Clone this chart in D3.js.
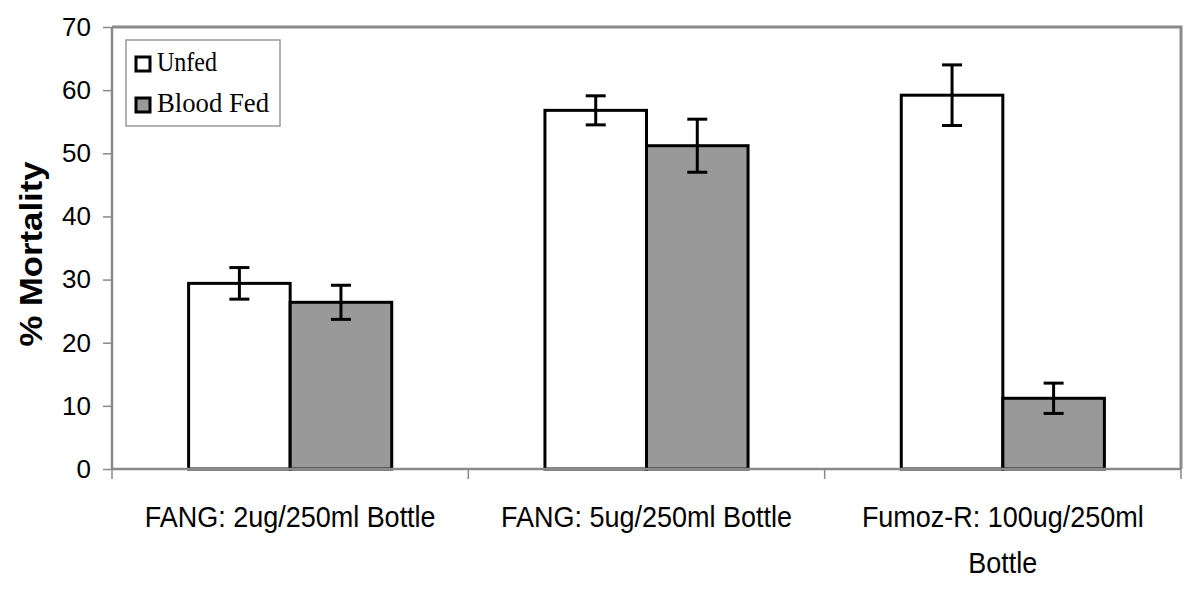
<!DOCTYPE html>
<html>
<head>
<meta charset="utf-8">
<script src="https://cdn.jsdelivr.net/npm/d3@7"></script>
<style>
  body { margin: 0; background: #fff; }
  svg { display: block; }
</style>
</head>
<body>
<script>
// data
var categories = ["FANG: 2ug/250ml Bottle", "FANG: 5ug/250ml Bottle", "Fumoz-R: 100ug/250ml Bottle"];
var seriesNames = ["Unfed", "Blood Fed"];
var unfedValues = [29.4, 56.8, 59.2];
var unfedErrors = [2.5, 2.3, 4.8];
var fedValues = [26.4, 51.2, 11.2];
var fedErrors = [2.7, 4.2, 2.4];
var yTicks = [0, 10, 20, 30, 40, 50, 60, 70];

var svgWidth = 1200;
var svgHeight = 608;
var margin = { top: 27, right: 19, bottom: 139, left: 112 };
var width = svgWidth - margin.left - margin.right;
var height = svgHeight - margin.top - margin.bottom;

var fills = { "Unfed": "#ffffff", "Blood Fed": "#999999" };
var axisGray = "#8a8a8a";

var svg = d3.select("body").append("svg")
    .attr("width", svgWidth)
    .attr("height", svgHeight);

var chartGroup = svg.append("g")
    .attr("transform", `translate(${margin.left}, ${margin.top})`);

// scales
var xScale = d3.scaleBand().domain(categories).range([0, width]);
var bw = xScale.bandwidth();
var xSub = d3.scaleBand().domain(seriesNames).range([bw * 0.215, bw * 0.785]);
var yScale = d3.scaleLinear().domain([0, 70]).range([height, 0]);

// plot frame (top + right)
chartGroup.append("path")
    .attr("d", `M0,0 H${width} V${height}`)
    .attr("fill", "none")
    .attr("stroke", axisGray)
    .attr("stroke-width", 3);

// table for the bars
var rows = [];
categories.forEach(function(c, i) {
  rows.push({ cat: c, series: "Unfed", value: unfedValues[i], err: unfedErrors[i] });
  rows.push({ cat: c, series: "Blood Fed", value: fedValues[i], err: fedErrors[i] });
});

chartGroup.selectAll(".bar")
    .data(rows)
    .enter()
    .append("rect")
    .attr("class", "bar")
    .attr("x", d => xScale(d.cat) + xSub(d.series))
    .attr("y", d => yScale(d.value))
    .attr("width", xSub.bandwidth())
    .attr("height", d => height - yScale(d.value))
    .attr("fill", d => fills[d.series])
    .attr("stroke", "#000")
    .attr("stroke-width", 3);

// error bars
var errG = chartGroup.selectAll(".err")
    .data(rows)
    .enter()
    .append("g")
    .attr("class", "err")
    .attr("stroke", "#000")
    .attr("stroke-width", 3);

var cx = d => xScale(d.cat) + xSub(d.series) + xSub.bandwidth() / 2;
errG.append("line")
    .attr("x1", cx).attr("x2", cx)
    .attr("y1", d => yScale(d.value + d.err))
    .attr("y2", d => yScale(d.value - d.err));
errG.append("line")
    .attr("x1", d => cx(d) - 10).attr("x2", d => cx(d) + 10)
    .attr("y1", d => yScale(d.value + d.err))
    .attr("y2", d => yScale(d.value + d.err));
errG.append("line")
    .attr("x1", d => cx(d) - 10).attr("x2", d => cx(d) + 10)
    .attr("y1", d => yScale(d.value - d.err))
    .attr("y2", d => yScale(d.value - d.err));

// y axis
var leftAxis = d3.axisLeft(yScale).tickValues(yTicks).tickSize(9).tickPadding(12);
var yAxisG = chartGroup.append("g").call(leftAxis);
yAxisG.select(".domain").attr("stroke", axisGray).attr("stroke-width", 2.5)
    .attr("d", `M0,${height}V0`);
yAxisG.selectAll(".tick line").attr("stroke", axisGray).attr("stroke-width", 1.5);
yAxisG.selectAll(".tick text")
    .style("font-family", "'Liberation Sans', Arial, sans-serif")
    .style("font-size", "26px")
    .attr("fill", "#000");

// x axis: baseline with ticks at category boundaries
var xAxisG = chartGroup.append("g").attr("transform", `translate(0, ${height})`);
xAxisG.append("line")
    .attr("x1", 0).attr("x2", width)
    .attr("y1", 0).attr("y2", 0)
    .attr("stroke", axisGray).attr("stroke-width", 2.5);
var bounds = categories.map(c => xScale(c)).concat([width]);
xAxisG.selectAll(".xtick")
    .data(bounds)
    .enter()
    .append("line")
    .attr("class", "xtick")
    .attr("x1", d => d).attr("x2", d => d)
    .attr("y1", 0).attr("y2", 10)
    .attr("stroke", axisGray).attr("stroke-width", 1.5);

// category labels (narrow-looking sans, wrapped)
var squeeze = 0.9;
var maxLine = 330;
xAxisG.selectAll(".xlab")
    .data(categories)
    .enter()
    .append("text")
    .attr("class", "xlab")
    .attr("transform", d => `translate(${xScale(d) + bw / 2}, 58) scale(${squeeze}, 1)`)
    .attr("text-anchor", "middle")
    .style("font-family", "'Liberation Sans', Arial, sans-serif")
    .style("font-size", "30px")
    .attr("fill", "#000")
    .each(function(d) {
      var t = d3.select(this);
      var words = d.split(" ");
      var line = [];
      var tspan = t.append("tspan").attr("x", 0).attr("dy", 0);
      words.forEach(function(w) {
        line.push(w);
        tspan.text(line.join(" "));
        if (tspan.node().getComputedTextLength() * squeeze > maxLine && line.length > 1) {
          line.pop();
          tspan.text(line.join(" "));
          line = [w];
          tspan = t.append("tspan").attr("x", 0).attr("dy", 46).text(w);
        }
      });
    });

// y axis title
svg.append("text")
    .attr("transform", `translate(42, ${margin.top + height / 2 + 6}) rotate(-90)`)
    .attr("text-anchor", "middle")
    .attr("textLength", 185)
    .attr("lengthAdjust", "spacingAndGlyphs")
    .style("font-family", "'Liberation Sans', Arial, sans-serif")
    .style("font-size", "31px")
    .style("font-weight", "bold")
    .attr("fill", "#000")
    .text("% Mortality");

// legend
var legend = svg.append("g").attr("transform", "translate(126, 40)");
legend.append("rect")
    .attr("width", 154).attr("height", 86)
    .attr("fill", "#fff")
    .attr("stroke", "#9a9a9a")
    .attr("stroke-width", 1.5);
var legendLengths = [60, 112];
var items = legend.selectAll(".item")
    .data(seriesNames)
    .enter()
    .append("g")
    .attr("class", "item")
    .attr("transform", (d, i) => `translate(0, ${17 + i * 41})`);
items.append("rect")
    .attr("x", 10).attr("y", 0)
    .attr("width", 14).attr("height", 14)
    .attr("fill", d => fills[d])
    .attr("stroke", "#000")
    .attr("stroke-width", 3);
items.append("text")
    .attr("x", 31).attr("y", 14)
    .attr("textLength", (d, i) => legendLengths[i])
    .attr("lengthAdjust", "spacingAndGlyphs")
    .style("font-family", "'Liberation Serif', 'Times New Roman', serif")
    .style("font-size", "27px")
    .attr("fill", "#000")
    .text(d => d);
</script>
</body>
</html>
